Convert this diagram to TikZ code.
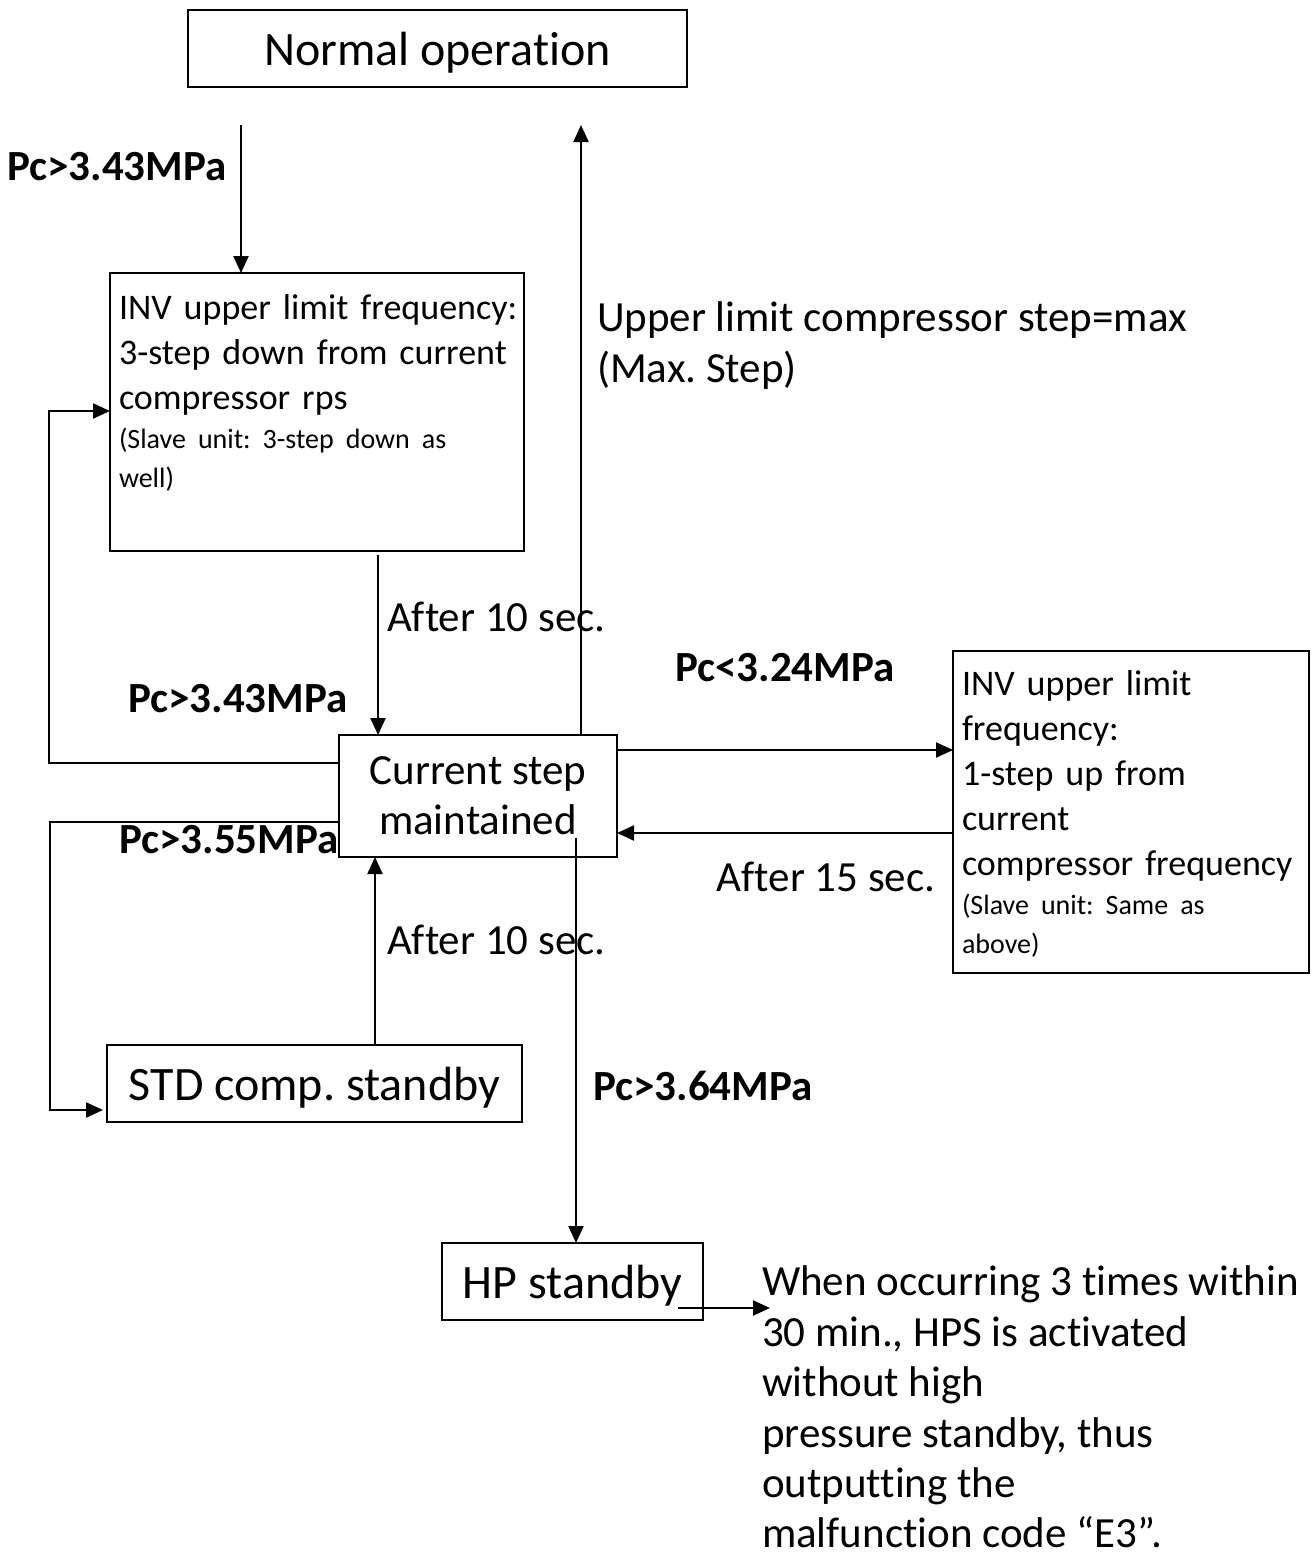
\documentclass[tikz,border=0pt]{standalone}
\usepackage{fontspec}
\setmainfont{Carlito}[Ligatures=NoCommon]
\usetikzlibrary{arrows.meta}
\frenchspacing

\begin{document}
\begin{tikzpicture}[x=1pt, y=-1pt, inner sep=0pt, outer sep=0pt,
  box/.style={draw=black, line width=1.6pt},
  flow/.style={draw=black, line width=2.2pt, -{Triangle[length=17pt,width=15pt]}},
  cond/.style={font=\fontsize{43}{50}\selectfont\bfseries},
  big/.style={font=\fontsize{43}{50}\selectfont},
  huge/.style={font=\fontsize{48}{56}\selectfont, text depth=0pt},
  note/.style={font=\fontsize{43}{51}\selectfont, align=left}]
  \useasboundingbox (0,0) rectangle (1316,1555);

  % boxes
  \node[box, huge, minimum width=499pt, minimum height=77pt] (normal) at (437.5,48.5) {Normal operation};
  \node[box, minimum width=414pt, minimum height=278pt] (inv) at (317,412) {};
  \node[box, big, align=center, minimum width=278pt, minimum height=122pt] (cur) at (478,796) {Current step\\maintained};
  \node[box, minimum width=356pt, minimum height=322pt] (rbox) at (1131,812) {};
  \node[box, huge, minimum width=415pt, minimum height=77pt] (std) at (314.5,1083.5) {STD comp. standby};
  \node[box, huge, minimum width=261pt, minimum height=77pt] (hp) at (572.5,1281.5) {HP standby};

  % box texts
  \node[anchor=north west, text width=410pt, align=left, font=\fontsize{36}{45}\selectfont] (invtext) at (119,295)
    {INV upper limit frequency:\\3-step down from current\\compressor rps\par
     \fontsize{28}{39}\selectfont (Slave unit: 3-step down as\\well)\par};
  \node[anchor=north west, text width=350pt, align=left, font=\fontsize{36}{45}\selectfont] (rtext) at (962,670)
    {INV upper limit\\frequency:\\1-step up from\\current\\compressor frequency\par
     \fontsize{28}{39}\selectfont (Slave unit: Same as\\above)\par};

  % free ends
  \coordinate (intop) at (241,125);
  \coordinate (uptop) at (581,125);
  \coordinate (dnx) at (378,0);
  \coordinate (stdx) at (375,0);
  \coordinate (hpsrc) at (576,838);
  \coordinate (hpout) at (678,1308);
  \coordinate (hpend) at (770,1308);

  % connectors
  \draw[flow] (intop) -- (intop |- inv.north);
  \draw[flow] (cur.north -| uptop) -- (uptop);
  \draw[flow] ([yshift=-4pt]inv.south -| dnx) -- (cur.north -| dnx);
  \draw[flow] (cur.west |- 0,763) -- (49,763) |- (inv.west |- 0,411);
  \draw[flow] (cur.west |- 0,822) -- (50,822) |- ([xshift=-4pt]std.west |- 0,1110);
  \draw[flow] (std.north -| stdx) -- (cur.south -| stdx);
  \draw[flow] (cur.east |- 0,750) -- (rbox.west |- 0,750);
  \draw[flow] (rbox.west |- 0,833) -- (cur.east |- 0,833);
  \draw[flow] (hpsrc) -- (hpsrc |- hp.north);
  \draw[flow] (hpout) -- (hpend);

  % labels
  \node[cond] (c1) at (117,167) {Pc>3.43MPa};
  \node[cond] (c2) at (238,699) {Pc>3.43MPa};
  \node[cond] (c3) at (229,840) {Pc>3.55MPa};
  \node[cond] (c4) at (785,668) {Pc<3.24MPa};
  \node[cond] (c5) at (703,1086) {Pc>3.64MPa};
  \node[big, anchor=west] (t1) at (387,617) {After 10 sec.};
  \node[big, anchor=west] (t2) at (387,940) {After 10 sec.};
  \node[big] (t3) at (826,877) {After 15 sec.};
  \node[note, anchor=north west] (maxnote) at (597,302) {Upper limit compressor step=max\\(Max. Step)};
  \node[note, anchor=north west, font=\fontsize{43}{50.4}\selectfont] (hpnote) at (762,1266) {When occurring 3 times within\\30 min., HPS is activated\\without high\\pressure standby, thus\\outputting the\\malfunction code “E3”.};
\end{tikzpicture}
\end{document}
